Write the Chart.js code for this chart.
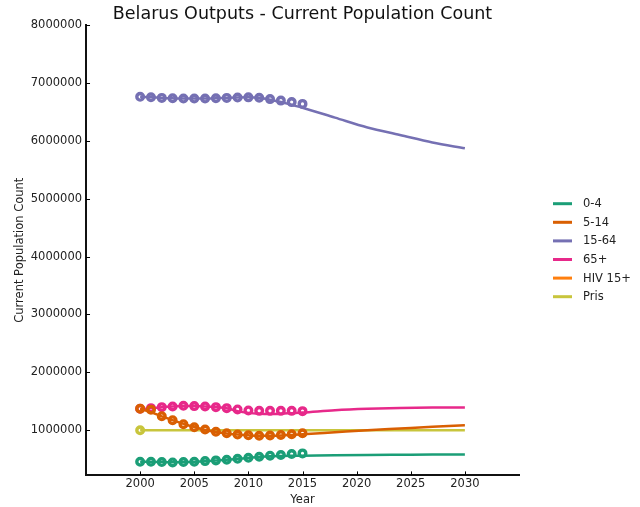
<!DOCTYPE html>
<html>
<head>
<meta charset="utf-8">
<script src="https://cdn.jsdelivr.net/npm/chart.js@4/dist/chart.umd.min.js"></script>
<style>
  html, body { margin: 0; padding: 0; background: #fff; }
  canvas { display: block; }
</style>
</head>
<body>
<canvas id="chart" width="640" height="507"></canvas>
<script>
// Series labels and colours
const seriesNames = ['0-4', '5-14', '15-64', '65+', 'HIV 15+', 'Pris'];
const seriesColors = ['#1b9e77', '#d95f02', '#7570b3', '#e7298a', '#ff7f0e', '#c8c53c'];

// Observed counts (circles)
const dataYears = [2000, 2001, 2002, 2003, 2004, 2005, 2006, 2007, 2008, 2009, 2010, 2011, 2012, 2013, 2014, 2015];
const obs0to4 = [457000, 457000, 450000, 444000, 450000, 457000, 467000, 479000, 490000, 507000, 524000, 542000, 560000, 571000, 589000, 600000];
const obs5to14 = [1373000, 1356000, 1243000, 1174000, 1104000, 1052000, 1012000, 974000, 948000, 925000, 913000, 905000, 908000, 918000, 931000, 948000];
const obs15to64 = [6760000, 6752000, 6741000, 6734000, 6729000, 6729000, 6729000, 6734000, 6741000, 6747000, 6750000, 6743000, 6720000, 6694000, 6668000, 6637000];
const obs65plus = [1370000, 1382000, 1399000, 1411000, 1422000, 1417000, 1411000, 1399000, 1382000, 1359000, 1342000, 1335000, 1335000, 1335000, 1335000, 1330000];
const prisYears = [2000];
const obsPris = [1000000];

// Model projections (lines)
const modelYears = [2000, 2001, 2002, 2003, 2004, 2005, 2006, 2007, 2008, 2009, 2010, 2011, 2012, 2013, 2014, 2015, 2018, 2021, 2024, 2027, 2030];
const model0to4 = [457000, 457000, 451000, 446000, 449000, 456000, 466000, 478000, 490000, 506000, 522000, 538000, 550000, 555000, 558000, 560000, 567000, 572000, 576000, 580000, 583000];
const model5to14 = [1373000, 1310000, 1240000, 1175000, 1110000, 1055000, 1005000, 970000, 945000, 925000, 912000, 905000, 905000, 910000, 920000, 930000, 965000, 1000000, 1030000, 1060000, 1085000];
const model15to64 = [6760000, 6752000, 6741000, 6734000, 6729000, 6729000, 6729000, 6734000, 6741000, 6747000, 6750000, 6743000, 6710000, 6670000, 6620000, 6570000, 6400000, 6230000, 6100000, 5970000, 5870000];
const model65plus = [1360000, 1382000, 1399000, 1411000, 1420000, 1417000, 1411000, 1399000, 1380000, 1330000, 1300000, 1285000, 1280000, 1285000, 1295000, 1305000, 1345000, 1370000, 1385000, 1392000, 1393000];
const modelHiv = [];
const modelPris = [1000000, 1000000, 1000000, 1000000, 1000000, 1000000, 1000000, 1000000, 1000000, 1000000, 1000000, 1000000, 1000000, 1000000, 1000000, 1000000, 1000000, 1000000, 1000000, 1000000, 1000000];

// Axis ticks
const xTicks = [2000, 2005, 2010, 2015, 2020, 2025, 2030];
const yTicks = [1000000, 2000000, 3000000, 4000000, 5000000, 6000000, 7000000, 8000000];

const FONT = 'DejaVu Sans';
const zip = (xs, ys) => ys.map((y, i) => ({ x: xs[i], y }));

const modelSeries = [model0to4, model5to14, model15to64, model65plus, modelHiv, modelPris];
const obsSeries = [
  [dataYears, obs0to4], [dataYears, obs5to14], [dataYears, obs15to64],
  [dataYears, obs65plus], null, [prisYears, obsPris]
];

const datasets = [];
seriesNames.forEach((name, i) => {
  datasets.push({
    label: name,
    data: zip(modelYears, modelSeries[i]),
    borderColor: seriesColors[i],
    backgroundColor: seriesColors[i],
    borderWidth: 2.5,
    pointRadius: 0,
    pointHoverRadius: 0,
    cubicInterpolationMode: 'monotone',
    fill: false
  });
  if (obsSeries[i]) {
    datasets.push({
      label: name + ' data',
      data: zip(obsSeries[i][0], obsSeries[i][1]),
      showLine: false,
      borderColor: seriesColors[i],
      backgroundColor: 'rgba(0,0,0,0)',
      pointBorderColor: seriesColors[i],
      pointBackgroundColor: 'rgba(0,0,0,0)',
      pointBorderWidth: 3.4,
      pointRadius: 3.3,
      pointHoverRadius: 3.3
    });
  }
});

// Small inward tick marks on both axes
const inwardTicks = {
  id: 'inwardTicks',
  afterDatasetsDraw(chart) {
    const { ctx, chartArea: a, scales: { x, y } } = chart;
    ctx.save();
    ctx.strokeStyle = '#000';
    ctx.lineWidth = 1;
    ctx.beginPath();
    xTicks.forEach(v => {
      const px = Math.round(x.getPixelForValue(v)) + 0.5;
      ctx.moveTo(px, a.bottom);
      ctx.lineTo(px, a.bottom - 4);
    });
    yTicks.forEach(v => {
      const py = Math.round(y.getPixelForValue(v)) + 0.5;
      ctx.moveTo(a.left, py);
      ctx.lineTo(a.left + 4, py);
    });
    ctx.stroke();
    ctx.restore();
  }
};

// Legend at the right of the plot, line swatches
const sideLegend = {
  id: 'sideLegend',
  afterDraw(chart) {
    const { ctx, chartArea: a } = chart;
    const rowH = 18.6;
    const x0 = a.right + 34;
    const yMid = (a.top + a.bottom) / 2;
    const y0 = yMid - rowH * (seriesNames.length - 1) / 2;
    ctx.save();
    ctx.font = '11.5px "' + FONT + '"';
    ctx.textBaseline = 'middle';
    ctx.textAlign = 'left';
    seriesNames.forEach((name, i) => {
      const yy = y0 + i * rowH;
      ctx.strokeStyle = seriesColors[i];
      ctx.lineWidth = 3;
      ctx.beginPath();
      ctx.moveTo(x0, yy);
      ctx.lineTo(x0 + 19, yy);
      ctx.stroke();
      ctx.fillStyle = '#222';
      ctx.fillText(name, x0 + 30, yy + 0.5);
    });
    ctx.restore();
  }
};

new Chart(document.getElementById('chart'), {
  type: 'line',
  data: { datasets },
  options: {
    responsive: false,
    animation: false,
    layout: { padding: { left: 13, right: 121, top: 0, bottom: 0 } },
    plugins: {
      legend: { display: false },
      tooltip: { enabled: false },
      title: {
        display: true,
        text: 'Belarus Outputs - Current Population Count',
        fullSize: false,
        color: '#111',
        font: { family: FONT, size: 17.5, weight: 'normal' },
        padding: { top: 4, bottom: 0 }
      }
    },
    scales: {
      x: {
        type: 'linear',
        min: 1995,
        max: 2035,
        afterBuildTicks: s => { s.ticks = xTicks.map(v => ({ value: v })); },
        grid: { display: false, drawTicks: false },
        border: { display: true, color: '#111', width: 2 },
        ticks: {
          padding: 2,
          color: '#222',
          font: { family: FONT, size: 11.5 },
          callback: v => String(v)
        },
        title: {
          display: true,
          text: 'Year',
          color: '#222',
          font: { family: FONT, size: 11.5 },
          padding: { top: 0, bottom: 0 }
        }
      },
      y: {
        type: 'linear',
        min: 220000,
        max: 8000000,
        afterBuildTicks: s => { s.ticks = yTicks.map(v => ({ value: v })); },
        grid: { display: false, drawTicks: false },
        border: { display: true, color: '#111', width: 2 },
        ticks: {
          padding: 4,
          color: '#222',
          font: { family: FONT, size: 11.5 },
          callback: v => String(v)
        },
        title: {
          display: true,
          text: 'Current Population Count',
          color: '#222',
          font: { family: FONT, size: 11.5 },
          padding: { top: 0, bottom: 0 }
        }
      }
    }
  },
  plugins: [inwardTicks, sideLegend]
});
</script>
</body>
</html>
